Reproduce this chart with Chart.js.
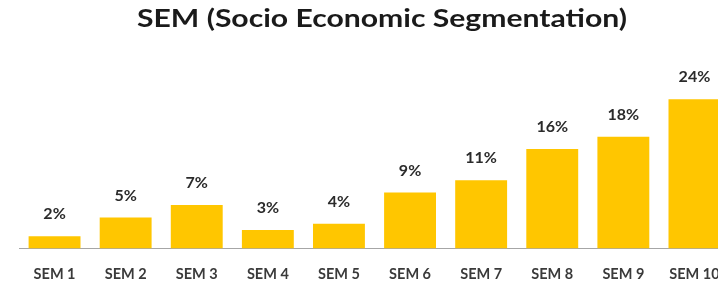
<!DOCTYPE html>
<html>
<head>
<meta charset="utf-8">
<script src="https://cdn.jsdelivr.net/npm/chart.js@4/dist/chart.umd.min.js"></script>
<style>
  html, body { margin: 0; padding: 0; background: #ffffff; overflow: hidden; }
  #wrap { position: relative; width: 740px; height: 285px; overflow: hidden; }
  #title {
    position: absolute; left: 382px; top: 5px;
    font-family: Lato, "Open Sans", sans-serif; font-weight: bold; font-size: 25px;
    line-height: 1; color: #1a1a1a; white-space: nowrap; transform-origin: 0 0;
  }
  canvas { position: absolute; left: 0; top: 0; }
</style>
</head>
<body>
<div id="wrap">
  <canvas id="c" width="740" height="305"></canvas>
  <div id="title">SEM (Socio Economic Segmentation)</div>
</div>
<script>
const categories = ["SEM 1", "SEM 2", "SEM 3", "SEM 4", "SEM 5", "SEM 6", "SEM 7", "SEM 8", "SEM 9", "SEM 10"];
const shares = [2, 5, 7, 3, 4, 9, 11, 16, 18, 24];
const shareLabels = ["2%", "5%", "7%", "3%", "4%", "9%", "11%", "16%", "18%", "24%"];

// fit the title to the reference's width, centred at x=382
(function () {
  const t = document.getElementById('title');
  const w = t.getBoundingClientRect().width;
  const s = 490 / w;
  t.style.transform = 'translateX(' + (-245) + 'px) scaleX(' + s + ')';
})();

const valueLabels = {
  id: 'valueLabels',
  afterDatasetsDraw(chart) {
    const ctx = chart.ctx;
    const meta = chart.getDatasetMeta(0);
    ctx.save();
    ctx.font = 'bold 16px Lato, "Open Sans", sans-serif';
    ctx.fillStyle = '#2b2b2b';
    ctx.textAlign = 'center';
    ctx.textBaseline = 'middle';
    meta.data.forEach((bar, i) => {
      ctx.fillText(shareLabels[i], bar.x, bar.y - 22);
    });
    ctx.restore();
  }
};

new Chart(document.getElementById('c'), {
  type: 'bar',
  data: {
    labels: categories,
    datasets: [{
      data: shares,
      backgroundColor: '#FFC600',
      borderWidth: 0,
      categoryPercentage: 1,
      barPercentage: 0.73
    }]
  },
  options: {
    responsive: false,
    animation: false,
    devicePixelRatio: 1,
    layout: { padding: { left: 19, right: 10, top: 62, bottom: 5 } },
    plugins: { legend: { display: false }, title: { display: false }, tooltip: { enabled: false } },
    scales: {
      x: {
        grid: { display: false, drawTicks: false, tickLength: 0 },
        border: { display: true, color: '#a6a6a6', width: 1 },
        ticks: {
          padding: 17,
          color: '#3a3a3a',
          font: { family: 'Lato, "Open Sans", sans-serif', size: 14.5, weight: 'bold' },
          maxRotation: 0, autoSkip: false
        }
      },
      y: { display: false, min: 0, max: 30 }
    }
  },
  plugins: [valueLabels]
});
</script>
</body>
</html>
